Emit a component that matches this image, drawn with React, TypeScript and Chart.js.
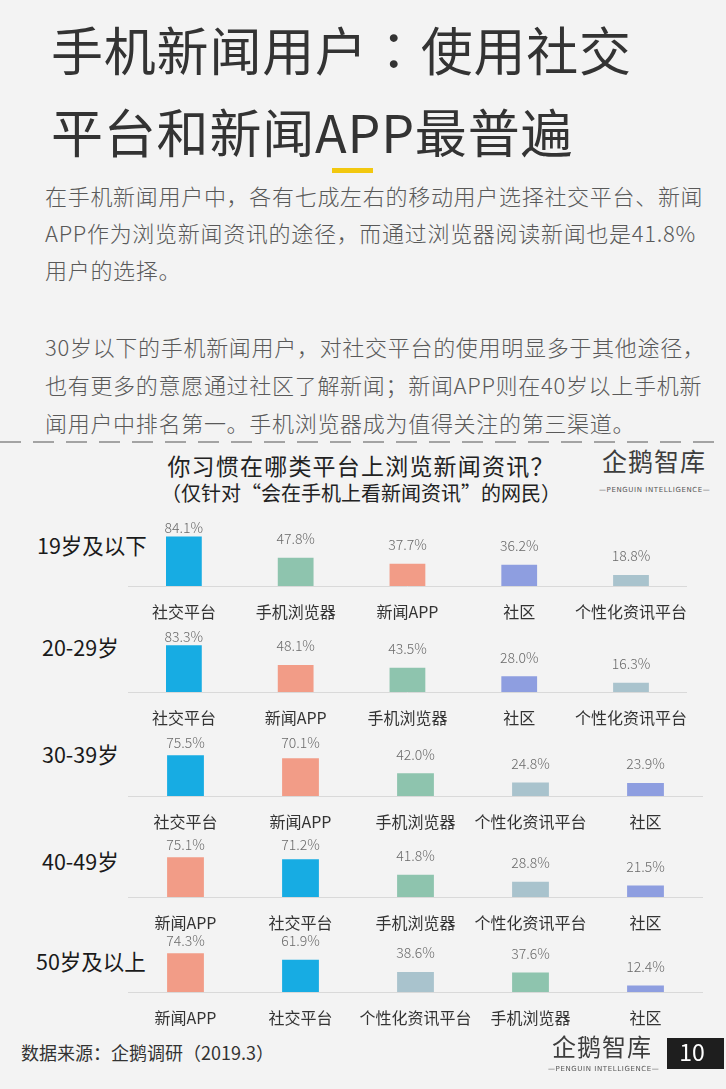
import React, { useEffect, useRef } from "react";
import { Chart, registerables } from "chart.js";

Chart.register(...registerables);

// ---------- data ----------
const ageGroups = ["19岁及以下", "20-29岁", "30-39岁", "40-49岁", "50岁及以上"];

const categories19 = ["社交平台", "手机浏览器", "新闻APP", "社区", "个性化资讯平台"];
const values19 = [84.1, 47.8, 37.7, 36.2, 18.8];

const categories20 = ["社交平台", "新闻APP", "手机浏览器", "社区", "个性化资讯平台"];
const values20 = [83.3, 48.1, 43.5, 28.0, 16.3];

const categories30 = ["社交平台", "新闻APP", "手机浏览器", "个性化资讯平台", "社区"];
const values30 = [75.5, 70.1, 42.0, 24.8, 23.9];

const categories40 = ["新闻APP", "社交平台", "手机浏览器", "个性化资讯平台", "社区"];
const values40 = [75.1, 71.2, 41.8, 28.8, 21.5];

const categories50 = ["新闻APP", "社交平台", "个性化资讯平台", "手机浏览器", "社区"];
const values50 = [74.3, 61.9, 38.6, 37.6, 12.4];

const panelCategories = [categories19, categories20, categories30, categories40, categories50];
const panelValues = [values19, values20, values30, values40, values50];

const titleLines = ["手机新闻用户", "使用社交"];
const titleLine2 = "平台和新闻APP最普遍";
const paragraphLines = [
  "在手机新闻用户中，各有七成左右的移动用户选择社交平台、新闻",
  "APP作为浏览新闻资讯的途径，而通过浏览器阅读新闻也是41.8%",
  "用户的选择。",
  "30岁以下的手机新闻用户，对社交平台的使用明显多于其他途径，",
  "也有更多的意愿通过社区了解新闻；新闻APP则在40岁以上手机新",
  "闻用户中排名第一。手机浏览器成为值得关注的第三渠道。",
];
const chartTitle = "你习惯在哪类平台上浏览新闻资讯？";
const chartSubtitle = "（仅针对“会在手机上看新闻资讯”的网民）";
const sourceText = "数据来源：企鹅调研（2019.3）";
const logoText = "企鹅智库";
const logoSub = "—PENGUIN INTELLIGENCE—";
const pageNumber = "10";

// ---------- styles ----------
const FONT = "'Noto Sans CJK SC', 'Noto Sans', sans-serif";
const categoryColors: Record<string, string> = {
  "社交平台": "#17ace3",
  "手机浏览器": "#8ec4ae",
  "新闻APP": "#f29c87",
  "社区": "#8e9ee0",
  "个性化资讯平台": "#a9c3cd",
};
const panelBaselines = [586, 692, 796, 897, 992];
const panelPlotHeights = [59, 56, 54, 53, 52];
const ageLabelLeft = [37, 42, 42, 42, 36];
const ageLabelCenterY = [546, 648, 755, 862, 962];
const paragraphCenterY = [196, 233, 270, 347, 385, 423];

const CANVAS_LEFT = 128;
const CANVAS_W = 575;
const PAD_TOP = 16;
const AXIS_H = 40;

const valueLabelPlugin = {
  id: "valueLabels",
  afterDatasetsDraw(chart: any) {
    const ctx = chart.ctx;
    const meta = chart.getDatasetMeta(0);
    const data = chart.data.datasets[0].data as number[];
    ctx.save();
    ctx.font = `300 14px ${FONT}`;
    ctx.fillStyle = "#6a6a6a";
    ctx.textAlign = "center";
    ctx.textBaseline = "middle";
    meta.data.forEach((bar: any, i: number) => {
      const y = Math.max(bar.y - 19, chart.chartArea.top + 1);
      ctx.fillText(data[i].toFixed(1) + "%", bar.x, y);
    });
    ctx.restore();
  },
};

function Panel({ categories, values, baseline, plotH }: { categories: string[]; values: number[]; baseline: number; plotH: number }) {
  const ref = useRef<HTMLCanvasElement | null>(null);
  const height = PAD_TOP + plotH + AXIS_H;
  useEffect(() => {
    if (!ref.current) return;
    const chart = new Chart(ref.current, {
      type: "bar",
      data: {
        labels: categories,
        datasets: [
          {
            data: values,
            backgroundColor: categories.map((c) => categoryColors[c]),
            barPercentage: 0.32,
            categoryPercentage: 1,
          },
        ],
      },
      options: {
        responsive: false,
        animation: false,
        devicePixelRatio: 1,
        layout: { padding: { top: PAD_TOP, bottom: 0, left: 0, right: 0 } },
        plugins: { legend: { display: false }, tooltip: { enabled: false }, title: { display: false } },
        scales: {
          x: {
            grid: { display: false, drawTicks: false },
            border: { display: true, color: "#d9d9d9", width: 1 },
            ticks: { padding: 16, color: "#333333", font: { family: FONT, size: 16 }, autoSkip: false, maxRotation: 0 },
            afterFit: (s: any) => {
              s.height = AXIS_H;
            },
          },
          y: { display: false, min: 0, max: 100 },
        },
      } as any,
      plugins: [valueLabelPlugin],
    });
    return () => chart.destroy();
  }, []);
  return (
    <canvas
      ref={ref}
      width={CANVAS_W}
      height={height}
      style={{ position: "absolute", left: CANVAS_LEFT, top: baseline - plotH - PAD_TOP, width: CANVAS_W, height }}
    />
  );
}

function T({ x, cy, fs, center, style, children }: any) {
  return (
    <div
      style={{
        position: "absolute",
        left: x,
        top: cy - 0.556 * fs,
        fontSize: fs,
        lineHeight: `${fs}px`,
        height: fs,
        whiteSpace: "nowrap",
        fontFamily: FONT,
        transform: center ? "translateX(-50%)" : undefined,
        ...style,
      }}
    >
      {children}
    </div>
  );
}

export default function App() {
  return (
    <div
      style={{
        position: "absolute",
        left: 0,
        top: 0,
        width: 726,
        height: 1089,
        background: "#f3f3f3",
        overflow: "hidden",
        fontFamily: FONT,
      }}
    >
      <T x={51} cy={52} fs={52} style={{ color: "#333", letterSpacing: 0.8 }}>
        {titleLines[0]}
        <span style={{ fontFamily: "'Noto Sans CJK JP'" }}>：</span>
        {titleLines[1]}
      </T>
      <T x={51} cy={134} fs={52} style={{ color: "#333", letterSpacing: 0.8 }}>
        {titleLine2}
      </T>
      <div style={{ position: "absolute", left: 332, top: 168, width: 41, height: 5, background: "#f2c80f" }} />
      {paragraphLines.map((line, i) => (
        <T key={i} x={45} cy={paragraphCenterY[i]} fs={22} style={{ color: "#595959", letterSpacing: 0.7, fontWeight: 300 }}>
          {line}
        </T>
      ))}
      <svg style={{ position: "absolute", left: 0, top: 436 }} width={726} height={12}>
        <line x1={0} y1={6} x2={726} y2={6} stroke="#a3a3a3" strokeWidth={2} strokeDasharray="21 12" />
      </svg>
      <T x={361} cy={467} fs={23} center style={{ color: "#222", letterSpacing: 1.2 }}>
        {chartTitle}
      </T>
      <T x={361} cy={494} fs={20} center style={{ color: "#222" }}>
        {chartSubtitle}
      </T>
      <T x={602} cy={462} fs={25} style={{ color: "#3d3d3d", letterSpacing: 1 }}>
        {logoText}
      </T>
      <T x={599} cy={491} fs={7} style={{ color: "#555", letterSpacing: 0.6, fontFamily: "'DejaVu Sans'" }}>
        {logoSub}
      </T>
      {ageGroups.map((g, i) => (
        <T key={g} x={ageLabelLeft[i]} cy={ageLabelCenterY[i]} fs={21.5} style={{ color: "#1a1a1a" }}>
          {g}
        </T>
      ))}
      {panelCategories.map((cats, i) => (
        <Panel key={i} categories={cats} values={panelValues[i]} baseline={panelBaselines[i]} plotH={panelPlotHeights[i]} />
      ))}
      <T x={21} cy={1053} fs={18} style={{ color: "#333" }}>
        {sourceText}
      </T>
      <T x={552} cy={1047} fs={24} style={{ color: "#3d3d3d", letterSpacing: 1 }}>
        {logoText}
      </T>
      <T x={548} cy={1070} fs={7} style={{ color: "#555", letterSpacing: 0.6, fontFamily: "'DejaVu Sans'" }}>
        {logoSub}
      </T>
      <div style={{ position: "absolute", left: 667, top: 1038, width: 57, height: 31, background: "#1e1e1e" }} />
      <T x={692} cy={1053} fs={23} center style={{ color: "#fff" }}>
        {pageNumber}
      </T>
    </div>
  );
}
